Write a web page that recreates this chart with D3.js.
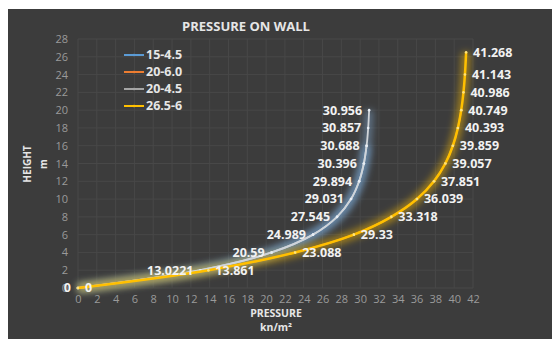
<!DOCTYPE html>
<html><head><meta charset="utf-8">
<script src="https://cdn.jsdelivr.net/npm/d3@7"></script>
<style>
html,body{margin:0;padding:0;background:#fff;}
svg{display:block;font-family:"Open Sans","DejaVu Sans",sans-serif;}
</style></head>
<body>
<svg id="c" width="552" height="339"></svg>
<script>
// ---- data ----
const seriesNames = ["15-4.5", "20-6.0", "20-4.5", "26.5-6"];
const heights15 = [0, 2, 4, 6, 8, 10, 12, 14, 16];
const pressure15 = [0, 13.0221, 20.59, 24.989, 27.545, 29.031, 29.894, 30.396, 30.688];
const heights20a = [0, 2, 4, 6, 8, 10, 12, 14, 16, 18, 20];
const pressure20a = [0, 13.0221, 20.59, 24.989, 27.545, 29.031, 29.894, 30.396, 30.688, 30.857, 30.956];
const heights20b = [0, 2, 4, 6, 8, 10, 12, 14, 16, 18, 20];
const pressure20b = [0, 13.861, 23.088, 29.33, 33.318, 36.039, 37.851, 39.057, 39.859, 40.393, 40.749];
const heights265 = [0, 2, 4, 6, 8, 10, 12, 14, 16, 18, 20, 22, 24, 26.5];
const pressure265 = [0, 13.861, 23.088, 29.33, 33.318, 36.039, 37.851, 39.057, 39.859, 40.393, 40.749, 40.986, 41.143, 41.268];
const xTicks = d3.range(0, 43, 2);
const yTicks = d3.range(0, 29, 2);

const svg = d3.select("#c");
svg.append("rect").attr("x", 8).attr("y", 9).attr("width", 544).attr("height", 330).attr("fill", "#3c3c3c");

const x = d3.scaleLinear().domain([0, 42]).range([78, 473]);
const y = d3.scaleLinear().domain([0, 28]).range([288, 39]);

const defs = svg.append("defs");
const f1 = defs.append("filter").attr("id", "glow").attr("x", "-20%").attr("y", "-20%").attr("width", "140%").attr("height", "140%");
f1.append("feGaussianBlur").attr("stdDeviation", 3.5);

// grid
const g = svg.append("g");
g.selectAll(".gx").data(xTicks).join("line")
  .attr("x1", d => x(d)).attr("x2", d => x(d)).attr("y1", y(0)).attr("y2", y(28))
  .attr("stroke", "#484848").attr("stroke-width", 1);
g.selectAll(".gy").data(yTicks).join("line")
  .attr("y1", d => y(d)).attr("y2", d => y(d)).attr("x1", x(0)).attr("x2", x(42))
  .attr("stroke", "#484848").attr("stroke-width", 1);

// axes (tick labels only)
const xAxis = svg.append("g").attr("transform", `translate(0,${y(0) + 7})`)
  .call(d3.axisBottom(x).tickValues(xTicks).tickSize(0).tickPadding(0));
const yAxis = svg.append("g").attr("transform", `translate(${x(0) - 10},0)`)
  .call(d3.axisLeft(y).tickValues(yTicks).tickSize(0).tickPadding(0));
[xAxis, yAxis].forEach(a => {
  a.select(".domain").remove();
  a.selectAll("text").attr("fill", "#9a9a9a").attr("font-size", 11)
    .attr("font-family", "'Open Sans',sans-serif");
});

// title & axis titles
svg.append("text").attr("x", 246).attr("y", 31).attr("text-anchor", "middle")
  .attr("fill", "#e6e6e6").attr("font-size", 13).attr("font-weight", "bold").text("PRESSURE ON WALL");
svg.append("text").attr("transform", "translate(31,164) rotate(-90)").attr("text-anchor", "middle")
  .attr("fill", "#e6e6e6").attr("font-size", 10).attr("font-weight", "bold").text("HEIGHT");
svg.append("text").attr("transform", "translate(47,164) rotate(-90)").attr("text-anchor", "middle")
  .attr("fill", "#e6e6e6").attr("font-size", 10).attr("font-weight", "bold").text("m");
svg.append("text").attr("x", 276).attr("y", 317).attr("text-anchor", "middle")
  .attr("fill", "#e6e6e6").attr("font-size", 10.5).attr("font-weight", "bold").text("PRESSURE");
svg.append("text").attr("x", 276).attr("y", 331).attr("text-anchor", "middle")
  .attr("fill", "#e6e6e6").attr("font-size", 10.5).attr("font-weight", "bold").text("kn/m²");

const line = d3.line().x(d => x(d[0])).y(d => y(d[1])).curve(d3.curveCatmullRom.alpha(0.5));
const pts = (xs, ys) => xs.map((v, i) => [v, ys[i]]);

const series = [
  {name: seriesNames[0], data: pts(pressure15, heights15), color: "#b8cfe6", glow: "#6fa8dc", legend: "#5b9bd5"},
  {name: seriesNames[1], data: pts(pressure20b, heights20b), color: "#ed7d31", glow: null, legend: "#ed7d31"},
  {name: seriesNames[2], data: pts(pressure20a, heights20a), color: "#d0d4d8", glow: "#7fa6cc", legend: "#a5a5a5"},
  {name: seriesNames[3], data: pts(pressure265, heights265), color: "#ffc000", glow: "#ffc000", legend: "#ffc000"}
];

series.forEach(s => {
  if (s.glow) {
    svg.append("path").attr("d", line(s.data)).attr("fill", "none")
      .attr("stroke", s.glow).attr("stroke-width", 9).attr("stroke-opacity", 0.5)
      .attr("filter", "url(#glow)");
  }
});
series.forEach(s => {
  svg.append("path").attr("d", line(s.data)).attr("fill", "none")
    .attr("stroke", s.color).attr("stroke-width", s.name === "26.5-6" ? 2.5 : 1.8);
  svg.append("g").selectAll("circle").data(s.data).join("circle")
    .attr("cx", d => x(d[0])).attr("cy", d => y(d[1])).attr("r", 1.3)
    .attr("fill", s.name === "26.5-6" ? "#ffe27a" : "#e8eef5");
});

// data labels
const lbl = (data, side) => svg.append("g").selectAll("text").data(data).join("text")
  .attr("x", d => x(d[0]) + (side === "left" ? -7 : 7))
  .attr("y", d => y(d[1])).attr("dy", "0.35em")
  .attr("text-anchor", side === "left" ? "end" : "start")
  .attr("fill", "#f2f2f2").attr("font-size", 12.5).attr("font-weight", "bold")
  .text(d => String(d[0]));
lbl(series[2].data, "left");
lbl(series[3].data, "right");

// legend
const lg = svg.append("g");
series.forEach((s, i) => {
  const ly = 55 + i * 17;
  lg.append("line").attr("x1", 124).attr("x2", 144).attr("y1", ly).attr("y2", ly)
    .attr("stroke", s.legend).attr("stroke-width", 2);
  lg.append("circle").attr("cx", 134).attr("cy", ly).attr("r", 1.3).attr("fill", s.legend);
  lg.append("text").attr("x", 146).attr("y", ly).attr("dy", "0.35em")
    .attr("fill", "#e6e6e6").attr("font-size", 12.5).attr("font-weight", "bold").text(s.name);
});
</script>
</body></html>
